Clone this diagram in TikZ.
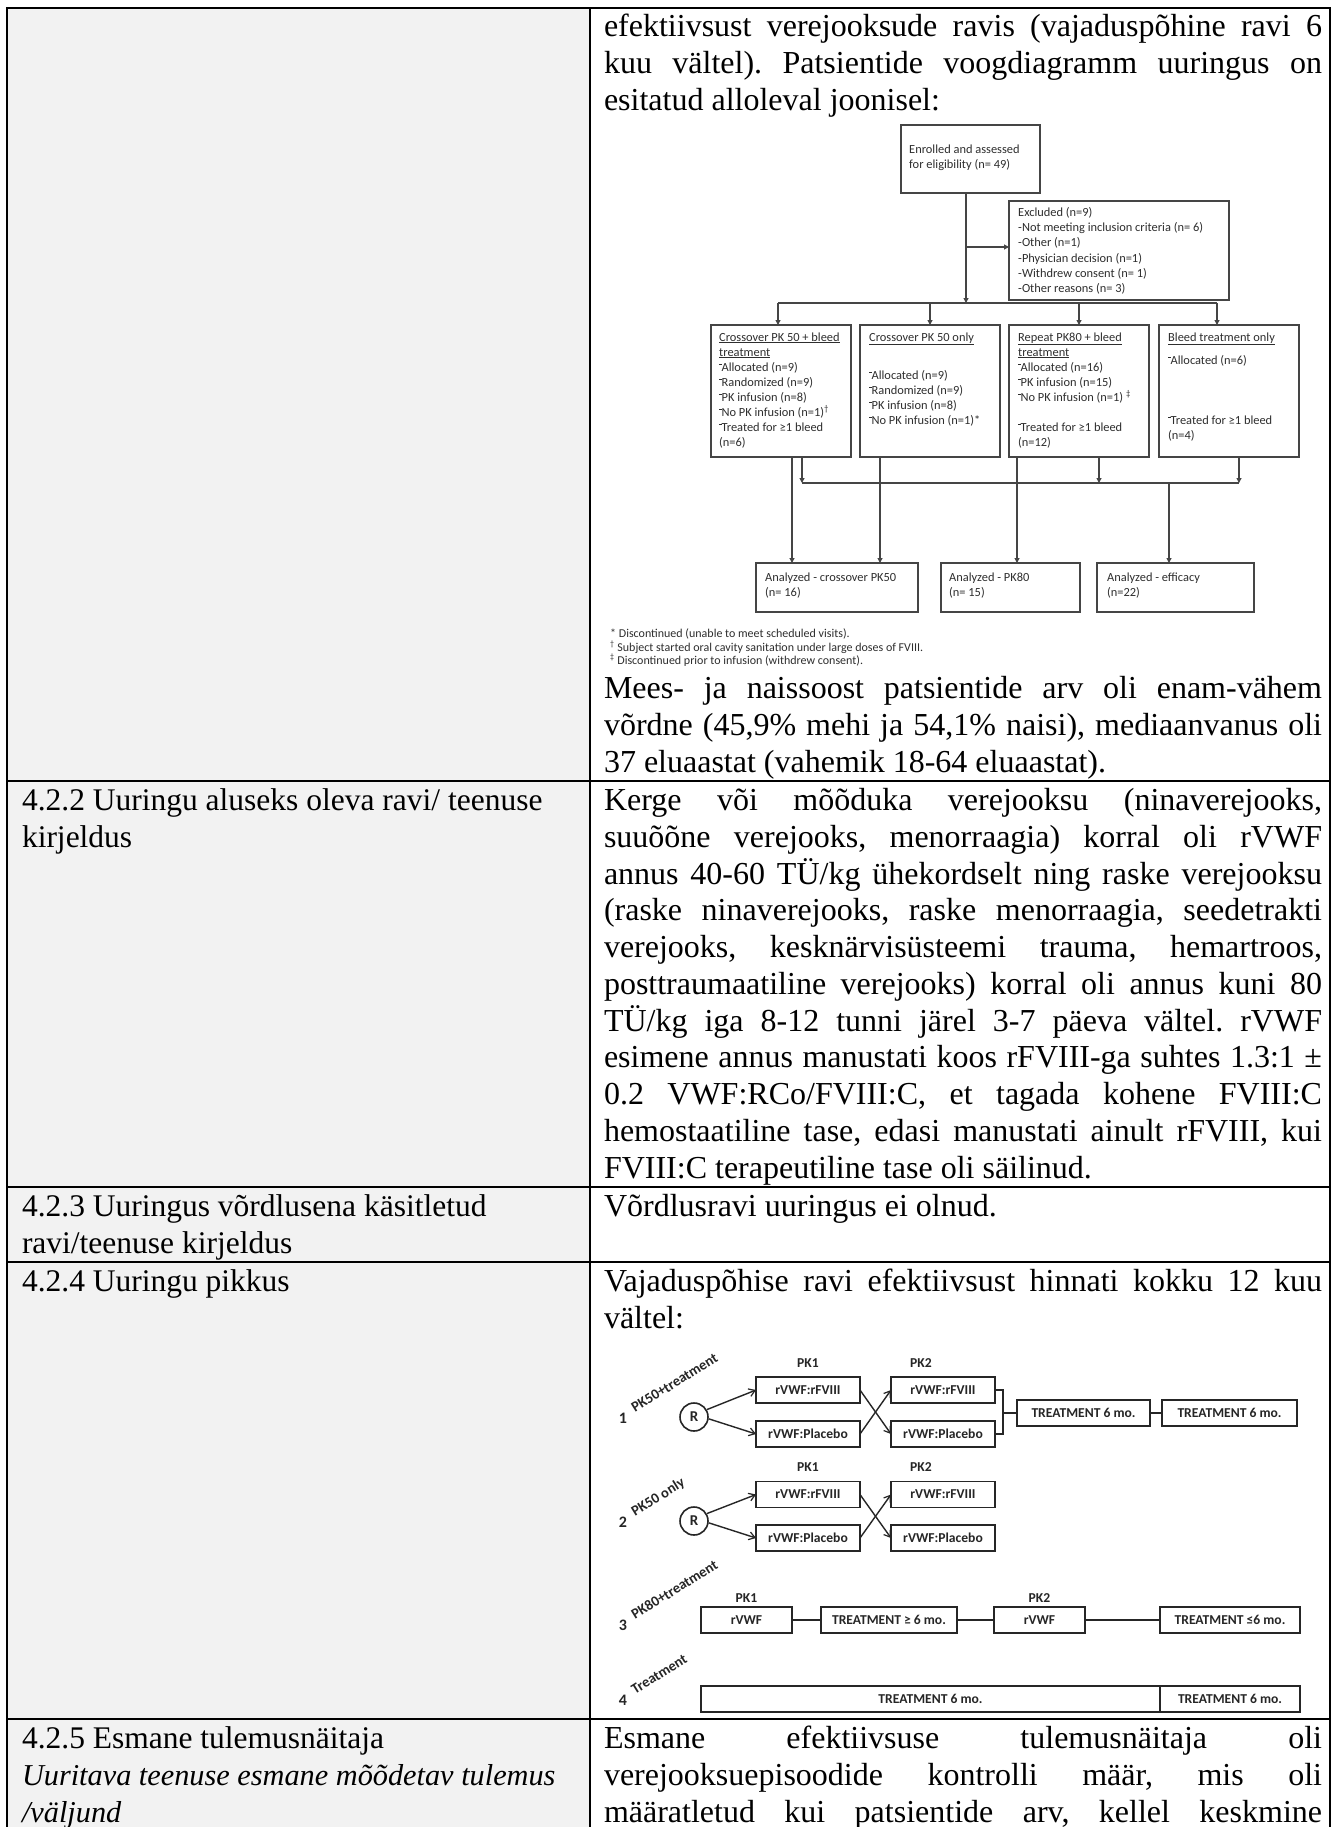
\documentclass[tikz,border=0pt]{standalone}
\usepackage{fontspec}
\setmainfont{Liberation Serif}
\newfontfamily\calfont{Carlito}
\usetikzlibrary{arrows.meta}
\definecolor{cellgray}{HTML}{F2F2F2}
\definecolor{fline}{HTML}{454545}
\definecolor{ftext}{HTML}{2E2E2E}
\hbadness=10000
\hfuzz=60pt
\frenchspacing
\newcommand\jl[1]{\makebox[718pt][s]{#1}}
\newcommand\bmk{\raisebox{6pt}{\rule{2.4pt}{0.8pt}}}
\begin{document}
\begin{tikzpicture}[x=1pt,y=-1pt,
 body/.style={inner sep=0pt,outer sep=0pt,anchor=base west,text height=26pt,text depth=7pt,font=\fontsize{32}{36.8}\selectfont},
 lbody/.style={body,font=\fontsize{31.5}{36.8}\selectfont},
 ibody/.style={body,font=\fontsize{30.3}{36.8}\selectfont\itshape},
 ftxt/.style={inner sep=0pt,anchor=base west,text height=9pt,text depth=2.5pt,text=ftext,font=\calfont\fontsize{12.4}{15}\selectfont},
 fnote/.style={inner sep=0pt,anchor=base west,text height=9pt,text depth=2.5pt,text=ftext,font=\calfont\fontsize{12}{13.5}\selectfont},
 fbox/.style={draw=fline,line width=1.1pt,inner sep=0pt,outer sep=0pt,anchor=north west},
 fln/.style={draw=fline,line width=1.1pt},
 farr/.style={fln,-{Triangle[length=5pt,width=5pt]}},
 sbox/.style={draw=black!85,line width=1.7pt,inner sep=0pt,outer sep=0pt,minimum height=26pt,text=black!85,font=\calfont\bfseries\fontsize{13.6}{16}\selectfont},
 slab/.style={inner sep=0pt,text=black!85,font=\calfont\bfseries\fontsize{13.6}{16}\selectfont},
 snum/.style={inner sep=0pt,anchor=base,text=black!85,font=\calfont\bfseries\fontsize{16}{18}\selectfont},
 srot/.style={inner sep=0pt,anchor=base west,rotate=32,text=black!85,font=\calfont\bfseries\fontsize{14.5}{16}\selectfont},
 circ/.style={circle,draw=black!85,line width=1.6pt,minimum size=28pt,inner sep=0pt,text=black!85,font=\calfont\bfseries\fontsize{15}{16}\selectfont},
 sln/.style={draw=black!85,line width=1.4pt},
 sarr/.style={sln,-{Straight Barb[length=6pt,width=8pt,line width=1.2pt]}}]

\useasboundingbox (0,0) rectangle (1335,1827);
\fill[white] (0,0) rectangle (1335,1827);
\fill[cellgray] (7,8) rectangle (590,1827);
\draw[line width=2.2pt] (7,1827) -- (7,8) -- (1330,8) -- (1330,1827);
\draw[line width=2pt] (590,8) -- (590,1827);
\foreach \yy in {781,1187,1262,1719} \draw[line width=2pt] (7,\yy) -- (1330,\yy);

% ---------- left column ----------
\node[lbody] (L1) at (22,810) {4.2.2 Uuringu aluseks oleva ravi/ teenuse};
\node[lbody] (L2) at (22,847) {kirjeldus};
\node[lbody] (L3) at (22,1216) {4.2.3 Uuringus võrdlusena käsitletud};
\node[lbody] (L4) at (22,1253) {ravi/teenuse kirjeldus};
\node[lbody] (L5) at (22,1291) {4.2.4 Uuringu pikkus};
\node[lbody] (L6) at (22,1748) {4.2.5 Esmane tulemusnäitaja};
\node[ibody] (L7) at (22,1785) {Uuritava teenuse esmane mõõdetav tulemus};
\node[ibody] (L8) at (22,1822) {/väljund};

% ---------- right column ----------
\node[body] (t1) at (604,37) {\jl{efektiivsust verejooksude ravis (vajaduspõhine ravi 6}};
\node[body] (t2) at (604,74) {\jl{kuu vältel). Patsientide voogdiagramm uuringus on}};
\node[body] (t3) at (604,111) {esitatud alloleval joonisel:};
\node[body] (t4) at (604,698) {\jl{Mees- ja naissoost patsientide arv oli enam-vähem}};
\node[body] (t5) at (604,735) {\jl{võrdne (45,9\% mehi ja 54,1\% naisi), mediaanvanus oli}};
\node[body] (t6) at (604,772) {37 eluaastat (vahemik 18-64 eluaastat).};

\node[body] (k1) at (604,810) {\jl{Kerge või mõõduka verejooksu (ninaverejooks,}};
\node[body] (k2) at (604,847) {\jl{suuõõne verejooks, menorraagia) korral oli rVWF}};
\node[body] (k3) at (604,884) {\jl{annus 40-60 TÜ/kg ühekordselt ning raske verejooksu}};
\node[body] (k4) at (604,920) {\jl{(raske ninaverejooks, raske menorraagia, seedetrakti}};
\node[body] (k5) at (604,957) {\jl{verejooks, kesknärvisüsteemi trauma, hemartroos,}};
\node[body] (k6) at (604,994) {\jl{posttraumaatiline verejooks) korral oli annus kuni 80}};
\node[body] (k7) at (604,1031) {\jl{TÜ/kg iga 8-12 tunni järel 3-7 päeva vältel. rVWF}};
\node[body] (k8) at (604,1067) {\jl{esimene annus manustati koos rFVIII-ga suhtes 1.3:1 ±}};
\node[body] (k9) at (604,1104) {\jl{0.2 VWF:RCo/FVIII:C, et tagada kohene FVIII:C}};
\node[body] (k10) at (604,1141) {\jl{hemostaatiline tase, edasi manustati ainult rFVIII, kui}};
\node[body] (k11) at (604,1178) {FVIII:C terapeutiline tase oli säilinud.};

\node[body] (v1) at (604,1216) {Võrdlusravi uuringus ei olnud.};
\node[body] (p1) at (604,1291) {\jl{Vajaduspõhise ravi efektiivsust hinnati kokku 12 kuu}};
\node[body] (p2) at (604,1328) {vältel:};

\node[body] (e1) at (604,1748) {\jl{Esmane efektiivsuse tulemusnäitaja oli}};
\node[body] (e2) at (604,1785) {\jl{verejooksuepisoodide kontrolli määr, mis oli}};
\node[body] (e3) at (604,1822) {\jl{määratletud kui patsientide arv, kellel keskmine}};

% ---------- flowchart 1 ----------
\node[fbox,minimum width=139pt,minimum height=68pt] (enr) at (901,125) {};
\node[ftxt] (enr1) at (909,154) {Enrolled and assessed};
\node[ftxt] (enr2) at (909,169) {for eligibility (n= 49)};

\node[fbox,minimum width=220pt,minimum height=99pt] (exc) at (1009,201) {};
\node[ftxt] (ex1) at (1018,217) {Excluded (n=9)};
\node[ftxt] (ex2) at (1018,232) {-Not meeting inclusion criteria (n= 6)};
\node[ftxt] (ex3) at (1018,247) {-Other (n=1)};
\node[ftxt] (ex4) at (1018,262) {-Physician decision (n=1)};
\node[ftxt] (ex5) at (1018,277) {-Withdrew consent (n= 1)};
\node[ftxt] (ex6) at (1018,292) {-Other reasons (n= 3)};

\node[fbox,minimum width=140pt,minimum height=132pt] (b1) at (711,325) {};
\node[fbox,minimum width=140pt,minimum height=132pt] (b2) at (860,325) {};
\node[fbox,minimum width=140pt,minimum height=132pt] (b3) at (1009,325) {};
\node[fbox,minimum width=140pt,minimum height=132pt] (b4) at (1159,325) {};

\node[ftxt] (b1a) at (719,341) {\underline{Crossover PK 50 + bleed}};
\node[ftxt] (b1b) at (719,356) {\underline{treatment}};
\node[ftxt] (b1c) at (719,371) {\bmk Allocated (n=9)};
\node[ftxt] (b1d) at (719,386) {\bmk Randomized (n=9)};
\node[ftxt] (b1e) at (719,401) {\bmk PK infusion (n=8)};
\node[ftxt] (b1f) at (719,416) {\bmk No PK infusion (n=1)\textsuperscript{†}};
\node[ftxt] (b1g) at (719,431) {\bmk Treated for ≥1 bleed};
\node[ftxt] (b1h) at (719,446) {(n=6)};

\node[ftxt] (b2a) at (869,341) {\underline{Crossover PK 50 only}};
\node[ftxt] (b2c) at (869,379) {\bmk Allocated (n=9)};
\node[ftxt] (b2d) at (869,394) {\bmk Randomized (n=9)};
\node[ftxt] (b2e) at (869,409) {\bmk PK infusion (n=8)};
\node[ftxt] (b2f) at (869,424) {\bmk No PK infusion (n=1)*};

\node[ftxt] (b3a) at (1018,341) {\underline{Repeat PK80 + bleed}};
\node[ftxt] (b3b) at (1018,356) {\underline{treatment}};
\node[ftxt] (b3c) at (1018,371) {\bmk Allocated (n=16)};
\node[ftxt] (b3d) at (1018,386) {\bmk PK infusion (n=15)};
\node[ftxt] (b3e) at (1018,401) {\bmk No PK infusion (n=1) \textsuperscript{‡}};
\node[ftxt] (b3g) at (1018,431) {\bmk Treated for ≥1 bleed};
\node[ftxt] (b3h) at (1018,446) {(n=12)};

\node[ftxt] (b4a) at (1168,341) {\underline{Bleed treatment only}};
\node[ftxt] (b4c) at (1168,364) {\bmk Allocated (n=6)};
\node[ftxt] (b4g) at (1168,424) {\bmk Treated for ≥1 bleed};
\node[ftxt] (b4h) at (1168,439) {(n=4)};

\node[fbox,minimum width=162pt,minimum height=49pt] (anA) at (756,563) {};
\node[fbox,minimum width=139pt,minimum height=49pt] (anB) at (941,563) {};
\node[fbox,minimum width=157pt,minimum height=49pt] (anC) at (1097,563) {};
\node[ftxt] (aA1) at (765,581) {Analyzed - crossover PK50};
\node[ftxt] (aA2) at (765,596) {(n= 16)};
\node[ftxt] (aB1) at (949,581) {Analyzed - PK80};
\node[ftxt] (aB2) at (949,596) {(n= 15)};
\node[ftxt] (aC1) at (1107,581) {Analyzed - efficacy};
\node[ftxt] (aC2) at (1107,596) {(n=22)};

\node[fnote] (fn1) at (610,637) {* Discontinued (unable to meet scheduled visits).};
\node[fnote] (fn2) at (610,651) {\textsuperscript{†} Subject started oral cavity sanitation under large doses of FVIII.};
\node[fnote] (fn3) at (610,664) {\textsuperscript{‡} Discontinued prior to infusion (withdrew consent).};

% connectors
\coordinate (dmid) at (966,303);
\coordinate (dl) at (778,303);
\coordinate (dr) at (1217,303);
\coordinate (exa) at (966,247);
\draw[farr] (enr.south -| dmid) -- (dmid);
\draw[farr] (exa) -- (exa -| exc.west);
\draw[fln] (dl) -- (dr);
\draw[farr] (dl) -- (dl |- b1.north);
\draw[farr] (b2.north |- dl) -- (b2.north);
\draw[farr] (b3.north |- dl) -- (b3.north);
\draw[farr] (dr) -- (dr |- b4.north);

\coordinate (cl) at (802,483);
\coordinate (c3) at (1099,483);
\coordinate (cr) at (1239,483);
\coordinate (c4) at (1169,483);
\draw[fln] (cl) -- (cr);
\draw[farr] (b1.south -| cl) -- (cl);
\draw[farr] (b3.south -| c3) -- (c3);
\draw[farr] (b4.south -| cr) -- (cr);
\draw[farr] (c4) -- (c4 |- anC.north);
\coordinate (l1) at (792,457);
\coordinate (l2) at (880,457);
\coordinate (l3) at (1017,457);
\draw[farr] (l1) -- (l1 |- anA.north);
\draw[farr] (l2) -- (l2 |- anA.north);
\draw[farr] (l3) -- (l3 |- anB.north);

% ---------- schema ----------
% row 1
\node[snum] (d1) at (623,1423) {1};
\node[srot] (r1lab) at (635,1413) {PK50+treatment};
\node[circ] (R1) at (694,1417) {R};
\node[slab] (pk11) at (808,1363) {PK1};
\node[slab] (pk12) at (921,1363) {PK2};
\node[sbox,minimum width=104pt] (a1) at (808,1390) {rVWF:rFVIII};
\node[sbox,minimum width=104pt] (a2) at (808,1434) {rVWF:Placebo};
\node[sbox,minimum width=104pt] (a3) at (943,1390) {rVWF:rFVIII};
\node[sbox,minimum width=104pt] (a4) at (943,1434) {rVWF:Placebo};
\node[sbox,minimum width=133pt] (a5) at (1083.5,1413) {TREATMENT 6 mo.};
\node[sbox,minimum width=135pt] (a6) at (1229.5,1413) {TREATMENT 6 mo.};
\draw[sarr] (R1.30) -- (a1.west);
\draw[sarr] (R1.-7) -- (a2.west);
\draw[sarr] (a1.east) -- (a4.west);
\draw[sarr] (a2.east) -- (a3.west);
\draw[sln] (a3.east) -- ++(8,0) |- (a4.east);
\coordinate (br1) at (1003,1413);
\draw[sln] (br1) -- (a5.west);
\draw[sln] (a5.east) -- (a6.west);

% row 2
\node[snum] (d2) at (623,1527) {2};
\node[srot] (r2lab) at (635,1517) {PK50 only};
\node[circ] (R2) at (694,1521) {R};
\node[slab] (pk21) at (808,1467) {PK1};
\node[slab] (pk22) at (921,1467) {PK2};
\node[sbox,minimum width=104pt] (c1) at (808,1494.5) {rVWF:rFVIII};
\node[sbox,minimum width=104pt] (c2) at (808,1538) {rVWF:Placebo};
\node[sbox,minimum width=104pt] (c3b) at (943,1494.5) {rVWF:rFVIII};
\node[sbox,minimum width=104pt] (c4b) at (943,1538) {rVWF:Placebo};
\draw[sarr] (R2.30) -- (c1.west);
\draw[sarr] (R2.-7) -- (c2.west);
\draw[sarr] (c1.east) -- (c4b.west);
\draw[sarr] (c2.east) -- (c3b.west);

% row 3
\node[snum] (d3) at (623,1630) {3};
\node[srot] (r3lab) at (635,1620) {PK80+treatment};
\node[slab] (pk31) at (746.5,1598) {PK1};
\node[slab] (pk32) at (1039.5,1598) {PK2};
\node[sbox,minimum width=91pt] (q1) at (746.5,1620) {rVWF};
\node[sbox,minimum width=136pt] (q2) at (889,1620) {TREATMENT ≥ 6 mo.};
\node[sbox,minimum width=91pt] (q3) at (1039.5,1620) {rVWF};
\node[sbox,minimum width=140pt] (q4) at (1230,1620) {TREATMENT ≤6 mo.};
\draw[sln] (q1) -- (q2);
\draw[sln] (q2) -- (q3);
\draw[sln] (q3) -- (q4);

% row 4
\node[snum] (d4) at (623,1705) {4};
\node[srot] (r4lab) at (635,1695) {Treatment};
\node[sbox,minimum width=459pt] (u1) at (930.5,1699) {TREATMENT 6 mo.};
\node[sbox,minimum width=140pt] (u2) at (1230,1699) {TREATMENT 6 mo.};
\end{tikzpicture}
\end{document}
